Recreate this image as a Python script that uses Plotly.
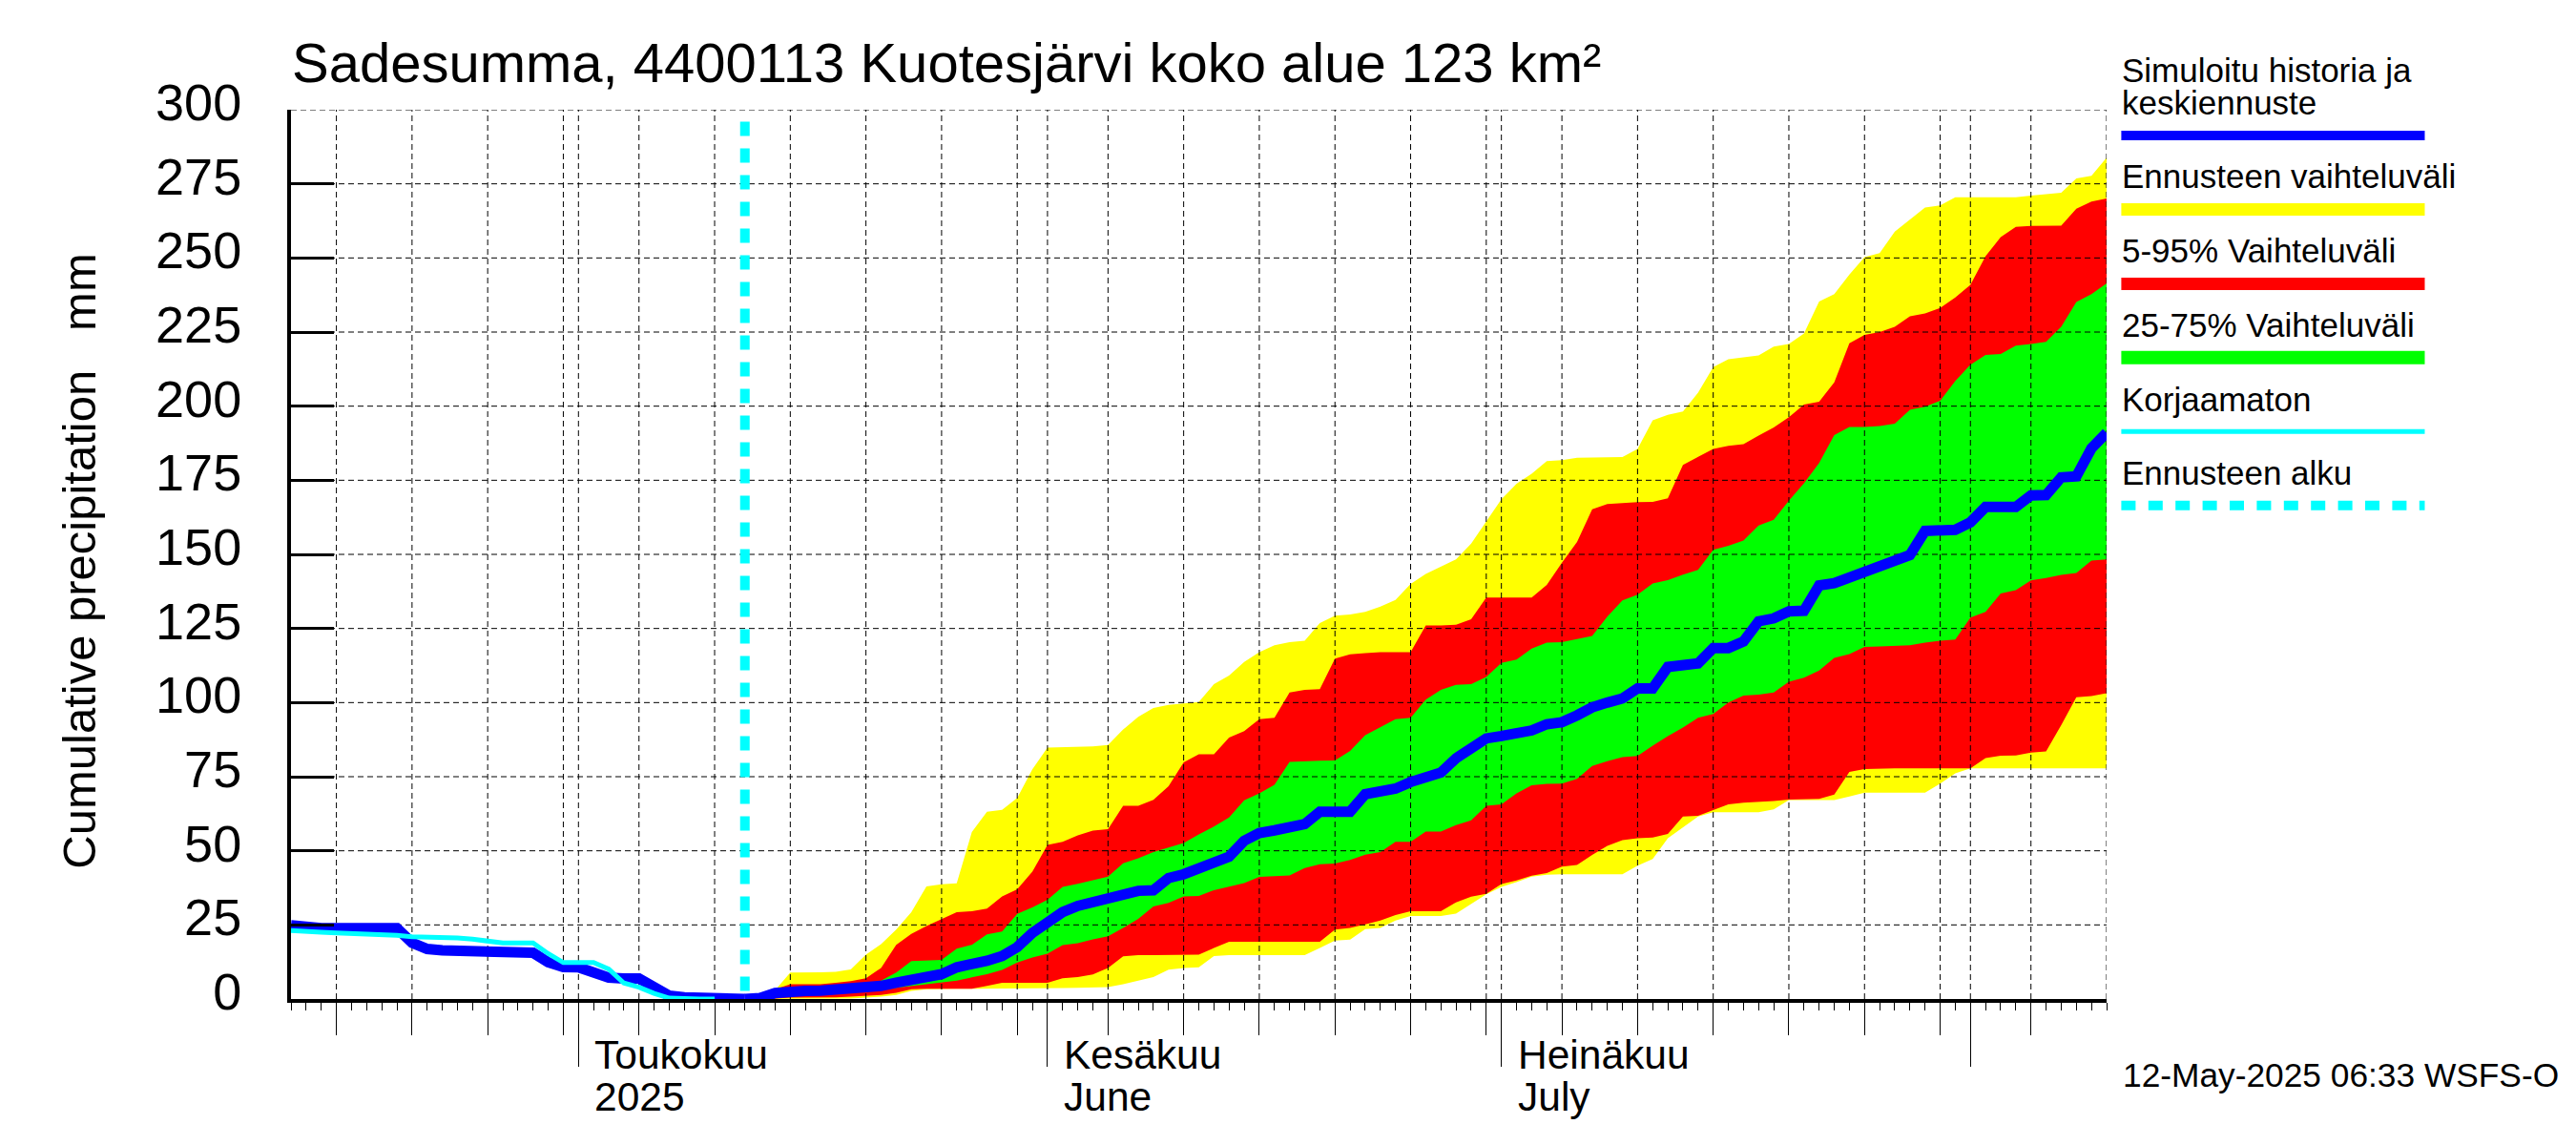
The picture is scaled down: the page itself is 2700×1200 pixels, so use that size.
import pandas as pd
import plotly.graph_objects as go

# axis data
y_ticks = list(range(0, 301, 25))
day_ticks = ["2025-04-15", "2025-04-20", "2025-04-25", "2025-04-30",
             "2025-05-05", "2025-05-10", "2025-05-15", "2025-05-20", "2025-05-25", "2025-05-30",
             "2025-06-05", "2025-06-10", "2025-06-15", "2025-06-20", "2025-06-25", "2025-06-30",
             "2025-07-05", "2025-07-10", "2025-07-15", "2025-07-20", "2025-07-25", "2025-07-30",
             "2025-08-05"]
month_ticks = ["2025-05-01", "2025-06-01", "2025-07-01", "2025-08-01"]
month_names = ["Toukokuu", "Kesäkuu", "Heinäkuu"]
month_names2 = ["2025", "June", "July"]
x_start = "2025-04-12"
x_end = "2025-08-10"
forecast_start = "2025-05-12"
forecast_top = 296

# history, one value per day from 12 April
hist_dates = pd.date_range("2025-04-12", "2025-05-12")
hist_blue = [24.9, 24.1, 23.9, 23.9, 23.9, 23.9, 23.9, 23.9, 19, 16.9, 16.4, 16.4, 16.1, 15.6, 15.6, 15.6,
             15.6, 12.4, 10.8, 10.7, 9.4, 7.2, 6.9, 6.9, 4, 1.1, 0.6, 0.3, 0.3, 0, 0]
uncorrected = [23.1, 22.6, 22.5, 22.3, 22.1, 22.1, 22.1, 21.5, 21, 20.9, 20.9, 20.6, 20.2, 19.6, 18.9, 18.9,
               18.9, 15.3, 12.3, 12.3, 12.3, 10.1, 5.4, 4, 1.9, 0.3, 0, 0, 0]
uncorrected_dates = hist_dates[:len(uncorrected)]

# forecast, one value per day from 12 May to 10 August
fc_dates = pd.date_range("2025-05-12", "2025-08-10")
yellow_hi = [0, 1.4, 3, 8.9, 8.9, 9, 9.2, 10, 15, 18.5, 23.4, 29.3, 38, 38.7, 39, 56.3, 63.2, 63.8, 67.8, 77.5,
             84.8, 84.9, 85, 85.2, 85.7,
             90.9, 95.2, 98.2, 99.2, 99.8, 100.2, 106.2, 109.1, 113.7, 117, 119.3, 120.4, 120.9, 126.8, 129.3,
             129.7, 130.6, 132.4, 134.6, 140, 143.4, 145.8, 148.3, 153.6, 161,
             168.6, 173.8, 177.2, 181.5, 181.8, 182.6, 182.6, 182.6, 182.8, 185.6, 195.2, 197.1, 198.2, 204.6,
             213.2, 215.8, 216.4, 217.1, 220.1, 221,
             224.5, 235.3, 237.8, 244.4, 250.3, 251.6, 258.9, 263.1, 267, 267.7, 270.5,
             270.5, 270.5, 270.5, 270.5, 271, 271.5, 272, 276.8, 277.7, 283.8]
red_hi = [0, 0.3, 3.3, 5, 5, 5, 5.5, 6, 7, 10.5, 18.3, 22, 24.6, 27, 29.3, 29.6, 30.5, 34.6, 37, 43,
          52, 53, 55.2, 56.8, 57.3,
          65.2, 65.2, 67.2, 71.8, 79.8, 82.6, 82.6, 88.2, 90.4, 94.4, 94.9, 103.4, 104.3, 104.5, 114.8,
          116.3, 116.7, 117, 117, 117, 126, 126, 126.3, 128.1, 135.4,
          135.4, 135.4, 135.4, 139.7, 147.2, 154.2, 165.2, 167, 167.4, 167.6, 167.7, 168.9, 180.2, 182.8,
          185.6, 186.6, 187.2, 190.1, 192.8, 196.3,
          200.5, 201.5, 208, 221.2, 224, 225, 226.8, 230.3, 231.3, 233.1, 236.7,
          240.9, 250.6, 257, 260.5, 260.8, 260.8, 260.9, 266.6, 269, 270.1]
green_hi = [0, 0.2, 1.5, 3, 3, 3, 3.3, 3.8, 4.5, 6.2, 8.9, 12.8, 12.9, 13.2, 17, 18.3, 21.8, 22.8, 28.7, 30.9,
            33.5, 37.8, 38.9, 40.2, 41.3,
            45.8, 47.5, 49.6, 51.2, 52.6, 55.5, 58.2, 61.2, 67, 69.4, 72.3, 80, 80.3, 80.4, 80.5,
            83.7, 89, 91.6, 94.4, 94.9, 101, 104.3, 106, 106.2, 108.6,
            113.4, 114.5, 118.2, 120.2, 120.4, 121.5, 122.5, 129, 134.5, 136.4, 140.2, 141.3, 143.2, 144.8,
            151.5, 152.9, 154.7, 159.7, 161.7, 168.1,
            174, 180.8, 190.2, 193, 193, 193.3, 194.1, 198.8, 199.8, 201.8, 208.5,
            214, 217.3, 217.6, 220.4, 221, 221.7, 226.8, 235.1, 237.8, 241.4]
green_lo = [0, 0, 1, 2, 2, 2, 2.2, 2.5, 2.8, 3.2, 3.8, 4.4, 4.9, 5.7, 6.2, 7.3, 8.4, 9.8, 12.3, 14,
            15.3, 18.2, 18.8, 20.1, 21.2,
            24, 27, 31.2, 32.4, 34.6, 34.8, 36.7, 37.8, 39.1, 41.2, 41.4, 41.7, 44.2, 45.5, 45.7,
            46.9, 48.7, 49.6, 53, 53, 56.5, 56.5, 58.7, 60.3, 65.2,
            65.7, 69.4, 72.1, 72.6, 72.7, 74.3, 78.6, 80.2, 81.6, 82, 85.5, 88.7, 91.6, 94.9,
            96.2, 100, 102.4, 102.7, 103.4, 107,
            108.4, 110.8, 115.1, 116.4, 118.8, 118.9, 119, 119.3, 120.2, 120.9, 121.3,
            128.7, 130.6, 136.8, 137.9, 141.2, 142, 143.1, 143.7, 147.9, 148.3]
red_lo = [0, 0, 0.2, 0.5, 0.5, 0.5, 0.6, 0.8, 1, 1.4, 2.1, 3.3, 3.5, 3.5, 3.5, 3.5, 4.4, 5.5, 5.5, 5.5,
          5.5, 7, 7.4, 8.3, 10.5,
          14.4, 14.8, 14.8, 14.8, 14.8, 15, 17.2, 19.3, 19.3, 19.3, 19.3, 19.3, 19.3, 19.3, 23.4,
          24, 25.2, 26.5, 28.3, 29.6, 29.6, 29.6, 32.6, 34.5, 35.5,
          38.8, 40, 41.6, 42.5, 44.7, 45.2, 48.6, 51.7, 53.6, 54.2, 54.5, 55.7, 61.6, 61.8,
          63.8, 65.7, 66.2, 66.4, 66.8, 67.3,
          67.5, 67.5, 69, 76.6, 77.6, 77.8, 77.8, 77.8, 77.8, 77.8, 77.8,
          77.8, 81.3, 82.1, 82.2, 83.1, 83.5, 92.4, 101.8, 102.2, 103.2]
yellow_lo = [0, 0, 0, 0, 0, 0, 0, 0.2, 0.5, 0.8, 1.4, 2.7, 3.3, 3.5, 3.5, 3.5, 3.5, 3.5, 3.5, 3.5,
             3.5, 3.7, 3.8, 3.9, 4,
             5, 6.2, 7.4, 9.9, 10.5, 10.7, 14.5, 14.8, 14.8, 14.8, 14.8, 14.8, 14.8, 17.2, 19.7,
             20, 23.6, 24, 26.5, 28, 28, 28, 28.8, 32, 35.3,
             37.8, 39.4, 41.3, 41.9, 42.1, 42.1, 42.1, 42.1, 42.1, 45, 47.2, 54.2, 57.9, 61.6,
             63, 63, 63, 63, 64, 67.1,
             67.1, 67.1, 67.1, 68.3, 69.6, 69.6, 69.6, 69.6, 69.6, 72.7, 76.1,
             77.8, 77.8, 77.8, 77.8, 77.8, 77.8, 77.8, 77.8, 77.8, 77.8]
fc_blue = [0, 0.3, 2, 2.7, 2.7, 2.8, 3, 3.5, 3.8, 4.4, 5.5, 6.3, 6.8, 8.4, 10.7, 11.6, 12.9, 14.5, 17.5, 22.3,
           25.5, 29.3, 31.4, 32.8, 33.5,
           35.1, 36.5, 36.7, 40.8, 42.1, 44.2, 46.4, 48, 53.4, 56, 56.9, 58.2, 59, 63.2, 63.2,
           63.2, 69.1, 70, 71, 73.2, 75.1, 76.4, 81.2, 85, 87.9,
           88.7, 89.3, 90.6, 92.7, 93.4, 95.7, 98.4, 100, 101.4, 104.8, 104.8, 112, 112.6, 113.2,
           118.4, 118.4, 120.6, 127.4, 128.4, 130.8,
           131, 139.5, 140.3, 142.3, 144.2, 146.4, 147.5, 149.8, 157.9, 158.1, 158.3,
           160.8, 166, 166, 166, 169.9, 170, 176, 176.3, 185.8, 191]

legend_labels = ["Simuloitu historia ja", "keskiennuste", "Ennusteen vaihteluväli", "5-95% Vaihteluväli",
                 "25-75% Vaihteluväli", "Korjaamaton", "Ennusteen alku"]
stamp = "12-May-2025 06:33 WSFS-O"
title = "Sadesumma, 4400113 Kuotesjärvi koko alue 123 km²"

# plot area in page pixels
LEFT, RIGHT, TOP, BOTTOM = 305, 2207.6, 115, 1047.5
FONT = "Liberation Sans"


def px(x):
    return (x - LEFT) / (RIGHT - LEFT)


def py(y):
    return (BOTTOM - y) / (BOTTOM - TOP)


fig = go.Figure()


def add_band(lo, hi, color):
    fig.add_trace(go.Scatter(x=fc_dates, y=lo, mode="lines", line=dict(width=0), showlegend=False, hoverinfo="skip"))
    fig.add_trace(go.Scatter(x=fc_dates, y=hi, mode="lines", line=dict(width=0), fill="tonexty",
                             fillcolor=color, showlegend=False, hoverinfo="skip"))


add_band(yellow_lo, yellow_hi, "#ffff00")
add_band(red_lo, red_hi, "#ff0000")
add_band(green_lo, green_hi, "#00ff00")

# the grid has to sit over the bands, so it is drawn as traces
grid_x = []
grid_y = []
for d in day_ticks + month_ticks + [x_end]:
    grid_x += [d, d, None]
    grid_y += [0, 300, None]
for v in y_ticks[1:]:
    grid_x += [x_start, x_end, None]
    grid_y += [v, v, None]
fig.add_trace(go.Scatter(x=grid_x, y=grid_y, mode="lines", showlegend=False, hoverinfo="skip",
                         line=dict(color="black", width=1, dash="6px,4px")))

fig.add_trace(go.Scatter(x=[forecast_start, forecast_start], y=[forecast_top, 0], mode="lines", xaxis="x2",
                         showlegend=False, hoverinfo="skip", cliponaxis=False,
                         line=dict(color="#00ffff", width=10, dash="15px,13px")))
fig.add_trace(go.Scatter(x=fc_dates, y=fc_blue, mode="lines", xaxis="x2", showlegend=False, cliponaxis=False,
                         hoverinfo="skip", line=dict(color="#0000ff", width=11)))
fig.add_trace(go.Scatter(x=hist_dates, y=hist_blue, mode="lines", xaxis="x2", showlegend=False, cliponaxis=False,
                         hoverinfo="skip", line=dict(color="#0000ff", width=11)))
fig.add_trace(go.Scatter(x=uncorrected_dates, y=uncorrected, mode="lines", xaxis="x2", showlegend=False,
                         cliponaxis=False, hoverinfo="skip", line=dict(color="#00ffff", width=5)))

annotations = []


def add_text(x, y, text, size, **kw):
    annotations.append(dict(x=px(x), y=py(y), xref="paper", yref="paper", text=text, showarrow=False,
                            xanchor=kw.pop("xanchor", "left"), yanchor="middle", align="left",
                            font=dict(family=FONT, size=size, color="black"), **kw))


# month labels sit right of the month tick
for m, a, b in zip(month_ticks, month_names, month_names2):
    annotations.append(dict(x=m, y=py(1106), xref="x", yref="paper", text=a, showarrow=False, xanchor="left",
                            xshift=15, yanchor="middle", font=dict(family=FONT, size=42.5, color="black")))
    annotations.append(dict(x=m, y=py(1150), xref="x", yref="paper", text=b, showarrow=False, xanchor="left",
                            xshift=15, yanchor="middle", font=dict(family=FONT, size=42.5, color="black")))

add_text(83, 588, "Cumulative precipitation\u00a0\u00a0\u00a0mm", 49, textangle=-90, xanchor="center")
add_text(2223, 1127, stamp, 35.3)

# hand made legend, the swatch goes under each label
add_text(2222, 73, legend_labels[0], 35)
add_text(2222, 107, legend_labels[1], 35)
add_text(2222, 185, legend_labels[2], 35)
add_text(2222, 262.5, legend_labels[3], 35)
add_text(2222, 340.6, legend_labels[4], 35)
add_text(2222, 419, legend_labels[5], 35)
add_text(2222, 496, legend_labels[6], 35)

swatches = [(142, "#0000ff", 10, "solid"), (219.5, "#ffff00", 13, "solid"), (297.5, "#ff0000", 13, "solid"),
            (375, "#00ff00", 14, "solid"), (452.5, "#00ffff", 5, "solid"), (530, "#00ffff", 10, "15px,13.4px")]
shapes = []
for y, color, w, dash in swatches:
    shapes.append(dict(type="line", xref="paper", yref="paper", x0=px(2223), x1=px(2541), y0=py(y), y1=py(y),
                       line=dict(color=color, width=w, dash=dash)))

fig.update_layout(
    width=2700, height=1200, autosize=False, plot_bgcolor="white", paper_bgcolor="white",
    margin=dict(l=LEFT, r=2700 - RIGHT, t=TOP, b=1200 - BOTTOM, pad=0),
    title=dict(text=title, x=306 / 2700, xanchor="left", y=1 - 66 / 1200, yanchor="middle",
               font=dict(family=FONT, size=58, color="black")),
    annotations=annotations, shapes=shapes, showlegend=False,
    xaxis=dict(range=[x_start, x_end], tickvals=day_ticks, showgrid=False, zeroline=False, showticklabels=False,
               ticks="outside", ticklen=34, tickwidth=1, tickcolor="black",
               showline=True, linecolor="black", linewidth=4,
               minor=dict(dtick=86400000, tick0=x_start, ticks="outside", ticklen=8, tickwidth=1, tickcolor="black",
                          showgrid=False)),
    xaxis2=dict(range=[x_start, x_end], matches="x", overlaying="x", anchor="y", side="bottom", tickvals=month_ticks,
                showgrid=False, zeroline=False, showticklabels=False, ticks="outside", ticklen=70, tickwidth=1,
                tickcolor="black"),
    yaxis=dict(range=[0, 300], tickvals=y_ticks, showgrid=False, zeroline=False, ticks="inside", ticklen=45,
               tickwidth=3, tickcolor="black", showline=True, linecolor="black", linewidth=4,
               ticklabelstandoff=37, ticklabelshift=-8, tickfont=dict(family=FONT, size=54, color="black")),
)

fig.write_html("out.html", post_script="document.body.style.margin='0';", config={"displayModeBar": False})
